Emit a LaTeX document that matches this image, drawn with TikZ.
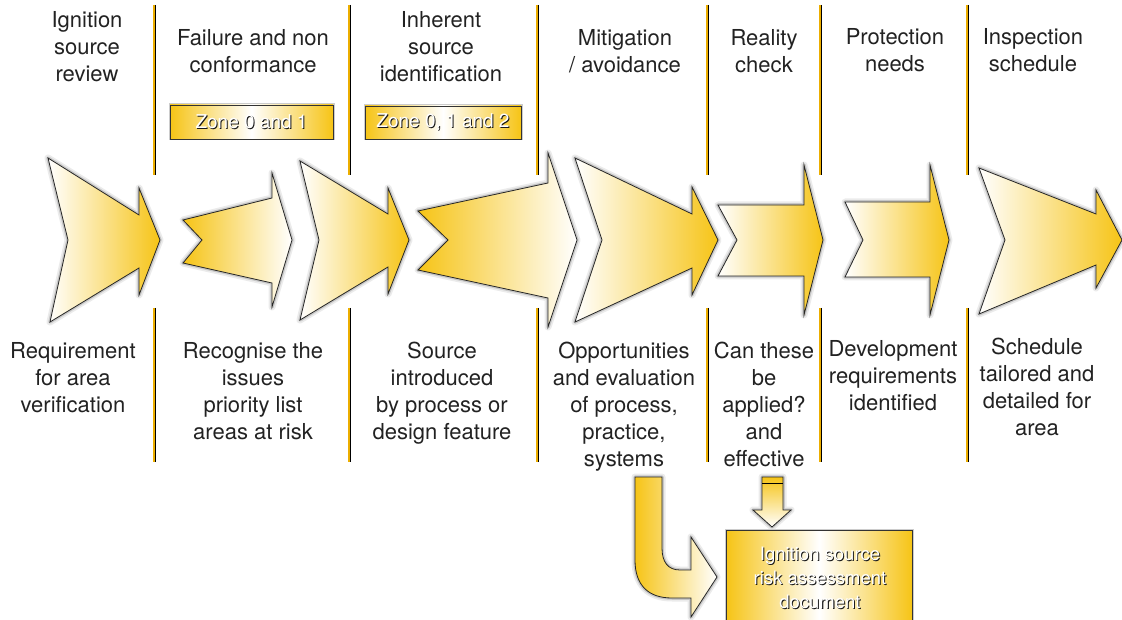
\documentclass[tikz,border=0pt]{standalone}
\usepackage{fontspec}
\setmainfont{TeX Gyre Heros}
\usepackage{tikz}
\definecolor{flow yellow}{RGB}{246,196,22}
\definecolor{rule gold}{RGB}{236,174,0}
\definecolor{soft ink}{RGB}{34,34,34}
\pgfdeclarehorizontalshading{zone glow}{100bp}{color(0bp)=(flow yellow); color(25bp)=(flow yellow); color(50bp)=(white); color(75bp)=(flow yellow); color(100bp)=(flow yellow)}
\newcommand{\embossed}[1]{\rlap{\color{black!90}\kern1pt\raisebox{-1pt}{#1}}\textcolor{white}{#1}}

\begin{document}
\begin{tikzpicture}[x=1pt, y=-1pt,
		stage/.style = {draw=black!85, line width=0.8pt,
			preaction={draw=black!8, line width=7pt, line join=round},
			preaction={draw=black!22, line width=3.5pt, line join=round}},
		into/.style = {stage, left color=white, right color=flow yellow},
		outof/.style = {stage, left color=flow yellow, right color=white},
		divider/.style = {draw=rule gold, line width=2.6pt},
		heading/.style = {anchor=north, align=center, inner sep=0pt, text=soft ink,
			font=\fontsize{22}{27}\selectfont},
		zonebox/.style = {draw=black!80, line width=0.7pt, shading=zone glow,
			preaction={draw=black!20, line width=3pt}, inner sep=0pt,
			font=\fontsize{19}{22}\selectfont}]
			\useasboundingbox (0,0) rectangle (1122,620);
			% column rules
			\foreach \x in {154,349,537,707,820,967} {
				\draw[divider] (\x,5) -- (\x,175) (\x,308) -- (\x,462);
				\draw[black, line width=0.6pt] (\x+1.5,5) -- (\x+1.5,175) (\x+1.5,308) -- (\x+1.5,462);
			}
			% stage arrows
			\path[into] (48,158) -- (139,215) -- (139,188) -- (160,240) -- (139,295)
				-- (139,268) -- (50,322) -- (68,240) -- cycle;
			\path[outof] (183,220) -- (202,240) -- (183,263) -- (272,283) -- (272,307)
				-- (292,240) -- (272,173) -- (272,198) -- cycle;
			\path[into] (300,161) -- (388,214) -- (388,188) -- (409,240) -- (388,294)
				-- (388,267) -- (300,320) -- (319,240) -- cycle;
			\path[outof] (418,211) -- (448,240) -- (418,270) -- (548,298) -- (548,327)
				-- (577,240) -- (548,153) -- (548,183) -- cycle;
			\path[into] (575,158) -- (692,214) -- (692,187) -- (718,240) -- (692,295)
				-- (692,268) -- (575,322) -- (602,240) -- cycle;
			\path[into] (718,205) -- (804,205) -- (804,165) -- (823,240) -- (804,315)
				-- (804,276) -- (718,276) -- (737,240) -- cycle;
			\path[into] (845,202) -- (930,202) -- (930,165) -- (949,240) -- (930,315)
				-- (930,277) -- (845,277) -- (863,240) -- cycle;
			\path[into] (979,168) -- (1096,214) -- (1096,190) -- (1122,240) -- (1096,288)
				-- (1096,265) -- (979,314) -- (1005,240) -- cycle;
			% zone tags
			\node[zonebox, minimum width=163, minimum height=34] (zone one) at (251.5,122) {\embossed{Zone 0 and 1}};
			\node[zonebox, minimum width=156, minimum height=33] (zone two) at (443,122.5) {\embossed{Zone 0, 1 and 2}};
			% column headings
			\node[heading] (review) at (87,11) {Ignition\\source\\review};
			\node[heading] (failure) at (253,29) {Failure and non\\conformance};
			\node[heading] (inherent) at (441,11) {Inherent\\source\\identification};
			\node[heading] (mitigation) at (625,29) {Mitigation\\/ avoidance};
			\node[heading] (reality) at (764,29) {Reality\\check};
			\node[heading] (protection) at (895,28) {Protection\\needs};
			\node[heading] (inspection) at (1033,28) {Inspection\\schedule};
			% column notes
			\node[heading] (requirement) at (73,342) {Requirement\\for area\\verification};
			\node[heading] (recognise) at (253,342) {Recognise the\\issues\\priority list\\areas at risk};
			\node[heading] (introduced) at (442,342) {Source\\introduced\\by process or\\design feature};
			\node[heading] (opportunities) at (624,342) {Opportunities\\and evaluation\\of process,\\practice,\\systems};
			\node[heading] (applied) at (764,342) {Can these\\be\\applied?\\and\\effective};
			\node[heading] (development) at (893,340) {Development\\requirements\\identified};
			\node[heading] (tailored) at (1037,338) {Schedule\\tailored and\\detailed for\\area};
			% feed into the document
			\path[outof] (635,477) -- (662,477) -- (662,548) .. controls (662,562) and (668,570) .. (680,570)
				-- (691,570) -- (691,537) -- (717,577) -- (691,617) -- (691,598) -- (672,598)
				.. controls (648,598) and (635,585) .. (635,560) -- cycle;
			\path[stage, top color=flow yellow, bottom color=white] (762,477) -- (783,477) -- (783,510)
				-- (791,510) -- (772,527) -- (753,510) -- (762,510) -- cycle;
			\draw[black, line width=0.8pt] (762,483) -- (783,483);
			\node[zonebox, anchor=north west, minimum width=186, minimum height=100] (document) at (726,530) {};
			\node[heading, font=\fontsize{18.5}{24}\selectfont] (document text) at (820,547)
				{\embossed{Ignition source}\\\embossed{risk assessment}\\\embossed{document}};
		\end{tikzpicture}
\end{document}
